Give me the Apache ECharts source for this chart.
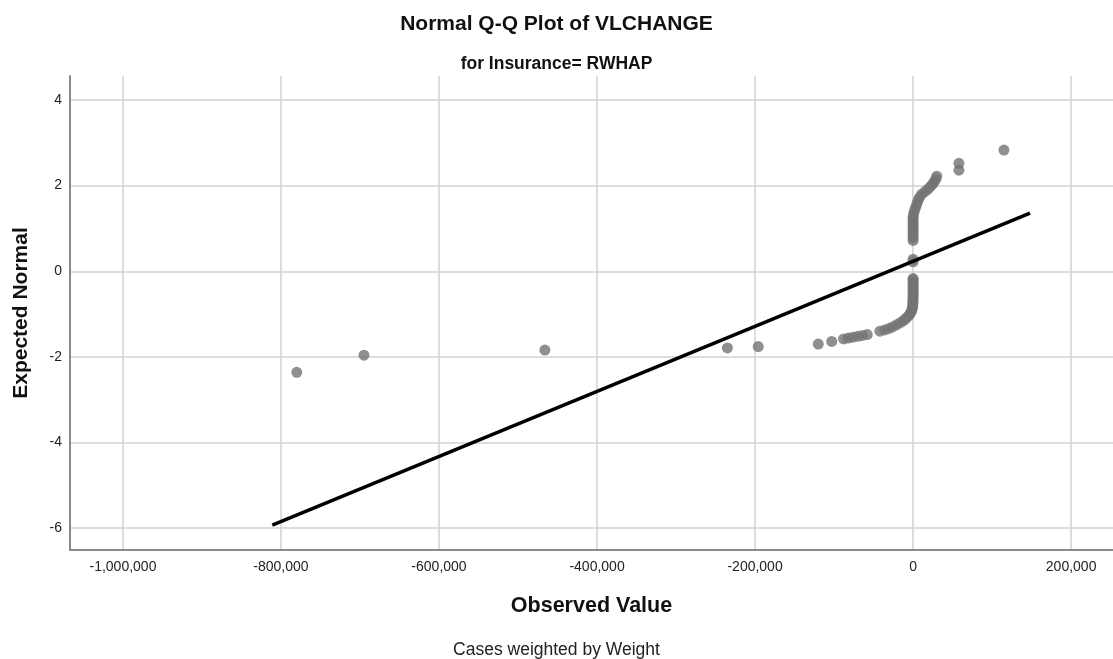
<!DOCTYPE html>
<html>
<head>
<meta charset="utf-8">
<title>Normal Q-Q Plot of VLCHANGE</title>
<script src="https://cdn.jsdelivr.net/npm/echarts@6/dist/echarts.min.js"></script>
<style>
  html, body { margin: 0; padding: 0; background: #fff; }
  #chart { width: 1113px; height: 659px; }
</style>
</head>
<body>
<div id="chart"></div>
<script>
var observedValues = [
  -780000, -695000, -466000, -235000, -196000, -120000, -103000,
  -88000, -82000, -76000, -70000, -64000, -58000,
  -42000, -36000, -31000, -26000, -21000, -16000, -12000, -9000, -6000,
  -4000, -2500, -1500, -800, -500, -300, -200, -100, -50,
  0, 0, 0, 0, 0, 0, 0, 0, 0,
  0, 0,
  0, 0, 0, 0, 0, 0, 0, 0, 0, 0,
  500, 1500, 3000, 4500, 6000, 8000, 11000, 15000, 19000, 22000, 25000, 27000, 29000, 30000,
  58000, 58000, 115000
];
var expectedNormal = [
  -2.36, -1.96, -1.84, -1.79, -1.76, -1.70, -1.64,
  -1.58, -1.56, -1.54, -1.52, -1.50, -1.48,
  -1.40, -1.37, -1.34, -1.30, -1.25, -1.20, -1.15, -1.10, -1.05,
  -1.00, -0.95, -0.90, -0.85, -0.80, -0.75, -0.70, -0.65, -0.60,
  -0.55, -0.50, -0.45, -0.40, -0.35, -0.30, -0.25, -0.20, -0.17,
  0.22, 0.28,
  0.72, 0.78, 0.84, 0.90, 0.96, 1.02, 1.08, 1.14, 1.20, 1.26,
  1.32, 1.40, 1.48, 1.56, 1.64, 1.72, 1.80, 1.86, 1.92, 1.98, 2.04, 2.10, 2.16, 2.22,
  2.36, 2.52, 2.83
];
// reference line end points
var refLineX = [-811000, 148000];
var refLineY = [-5.93, 1.36];

var xTicks = [-1000000, -800000, -600000, -400000, -200000, 0, 200000];
var yTicks = [-6, -4, -2, 0, 2, 4];

var points = observedValues.map(function (v, i) { return [v, expectedNormal[i]]; });
var refLine = refLineX.map(function (v, i) { return [v, refLineY[i]]; });

var myChart = echarts.init(document.getElementById('chart'));

var fontFam = '"Liberation Sans", Arial, sans-serif';

var option = {
  backgroundColor: '#fff',
  animation: false,
  title: [{
    text: 'Normal Q-Q Plot of VLCHANGE',
    left: 'center',
    top: 9,
    textStyle: { fontFamily: fontFam, fontSize: 21, fontWeight: 'bold', color: '#111' }
  }, {
    text: 'for Insurance= RWHAP',
    left: 'center',
    top: 50,
    textStyle: { fontFamily: fontFam, fontSize: 17.5, fontWeight: 'bold', color: '#111' }
  }, {
    text: 'Cases weighted by Weight',
    left: 'center',
    top: 636,
    textStyle: { fontFamily: fontFam, fontSize: 17.5, fontWeight: 'normal', color: '#222' }
  }],
  grid: { left: 70, right: 0, top: 76, bottom: 109 },
  xAxis: {
    type: 'value',
    min: -1067000,
    max: 253000,
    name: 'Observed Value',
    nameLocation: 'middle',
    nameGap: 45,
    nameTextStyle: { fontFamily: fontFam, fontSize: 21.5, fontWeight: 'bold', color: '#111' },
    axisLine: { show: true, onZero: false, lineStyle: { color: '#8a8a8a', width: 2 } },
    axisTick: { show: false, customValues: xTicks },
    axisLabel: {
      customValues: xTicks,
      margin: 10,
      fontFamily: fontFam, fontSize: 14, color: '#222',
      formatter: function (v) { return v.toLocaleString('en-US'); }
    },
    splitLine: { show: true, lineStyle: { color: '#d2d2d2', width: 1.5 } }
  },
  yAxis: {
    type: 'value',
    min: -6.51,
    max: 4.56,
    name: 'Expected Normal',
    nameLocation: 'middle',
    nameGap: 38,
    nameRotate: 90,
    nameTextStyle: { fontFamily: fontFam, fontSize: 21, fontWeight: 'bold', color: '#111' },
    axisLine: { show: true, onZero: false, lineStyle: { color: '#8a8a8a', width: 2 } },
    axisTick: { show: false, customValues: yTicks },
    axisLabel: {
      customValues: yTicks,
      margin: 8,
      fontFamily: fontFam, fontSize: 14, color: '#222'
    },
    splitLine: { show: true, lineStyle: { color: '#d2d2d2', width: 1.5 } }
  },
  series: [{
    name: 'Observed',
    type: 'scatter',
    data: points,
    symbol: 'circle',
    symbolSize: 11,
    itemStyle: { color: '#737373' },
    z: 3
  }, {
    name: 'Reference',
    type: 'line',
    data: refLine,
    symbol: 'none',
    lineStyle: { color: '#000', width: 3.5 },
    z: 4
  }]
};

myChart.setOption(option);
</script>
</body>
</html>
